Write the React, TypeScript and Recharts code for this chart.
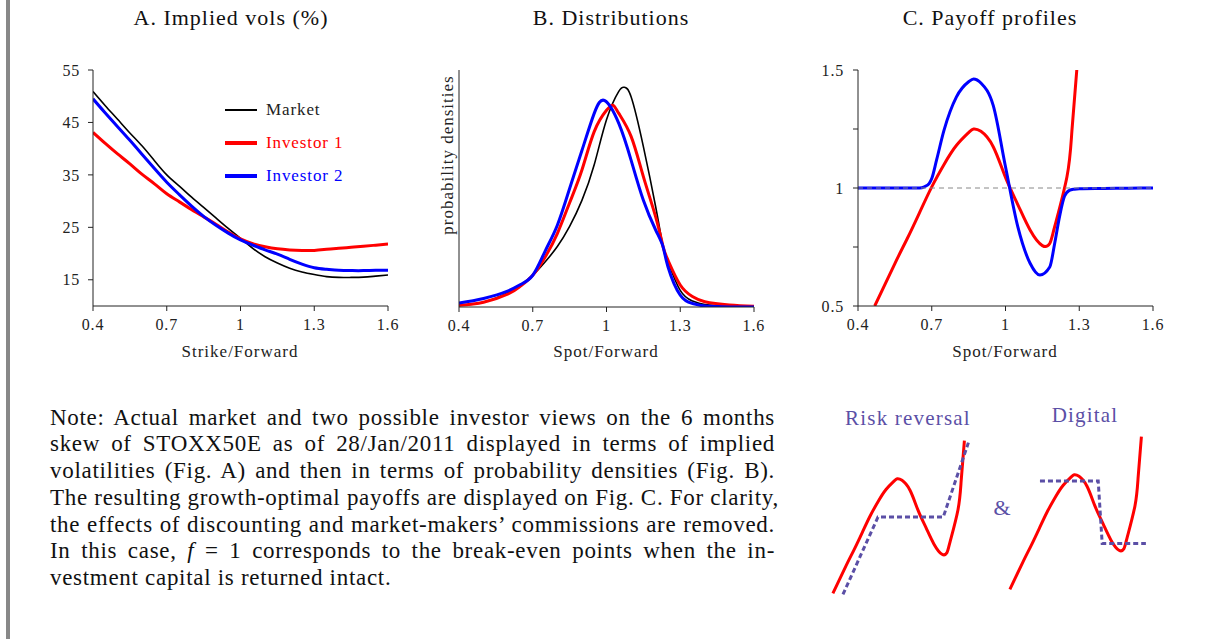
import { LineChart, Line, XAxis, YAxis, ReferenceLine } from 'recharts'

// A. implied vols (%)
const strikes = [0.4, 0.45, 0.5, 0.55, 0.6, 0.65, 0.7, 0.75, 0.8, 0.85, 0.9, 0.95, 1.0, 1.05, 1.1, 1.15, 1.2, 1.25, 1.3, 1.35, 1.4, 1.45, 1.5, 1.55, 1.6]
const volMarket = [50.9, 48.2, 45.6, 43.0, 40.5, 37.7, 35.0, 32.9, 30.8, 28.8, 26.8, 24.8, 22.9, 21.0, 19.4, 18.2, 17.2, 16.5, 16.0, 15.6, 15.45, 15.45, 15.5, 15.7, 15.9]
const volInv1 = [43.1, 41.0, 39.0, 37.1, 35.1, 33.3, 31.4, 29.9, 28.4, 27.0, 25.6, 24.1, 22.8, 21.9, 21.3, 20.9, 20.7, 20.6, 20.6, 20.8, 21.0, 21.2, 21.4, 21.6, 21.8]
const volInv2 = [49.5, 46.8, 44.2, 41.6, 38.9, 36.2, 33.6, 31.3, 29.1, 27.1, 25.4, 23.9, 22.6, 21.6, 20.7, 19.9, 18.9, 18.0, 17.3, 17.0, 16.8, 16.75, 16.75, 16.8, 16.8]

// B. densities (arbitrary units)
const densMarketX = [0.4, 0.5, 0.6, 0.65, 0.7, 0.75, 0.8, 0.85, 0.9, 0.95, 1.0, 1.05, 1.072, 1.1, 1.15, 1.2, 1.23, 1.25, 1.3, 1.35, 1.4, 1.5, 1.6]
const densMarketY = [0.007, 0.02, 0.06, 0.09, 0.134, 0.19, 0.255, 0.34, 0.45, 0.6, 0.79, 0.91, 0.927, 0.887, 0.677, 0.423, 0.255, 0.19, 0.07, 0.025, 0.01, 0.002, 0]
const densInv1X = [0.4, 0.5, 0.6, 0.65, 0.7, 0.75, 0.8, 0.85, 0.9, 0.95, 1.0, 1.027, 1.05, 1.1, 1.15, 1.2, 1.23, 1.25, 1.3, 1.35, 1.4, 1.5, 1.6]
const densInv1Y = [0.007, 0.02, 0.055, 0.088, 0.134, 0.21, 0.31, 0.44, 0.578, 0.74, 0.83, 0.851, 0.817, 0.72, 0.55, 0.38, 0.255, 0.198, 0.093, 0.044, 0.022, 0.008, 0.003]
const densInv2X = [0.4, 0.5, 0.6, 0.65, 0.7, 0.75, 0.8, 0.85, 0.9, 0.95, 0.993, 1.05, 1.1, 1.15, 1.2, 1.23, 1.25, 1.3, 1.35, 1.4, 1.5, 1.6]
const densInv2Y = [0.017, 0.036, 0.068, 0.095, 0.134, 0.235, 0.345, 0.5, 0.66, 0.817, 0.871, 0.775, 0.62, 0.45, 0.325, 0.255, 0.17, 0.05, 0.015, 0.004, 0, 0]

// C. payoff profiles
const payInv1X = [0.468, 0.55, 0.6, 0.65, 0.7, 0.75, 0.8, 0.85, 0.87, 0.9, 0.95, 1.0, 1.05, 1.1, 1.15, 1.18, 1.2, 1.25, 1.27, 1.29]
const payInv1Y = [0.5, 0.68, 0.785, 0.895, 1.005, 1.1, 1.18, 1.235, 1.25, 1.24, 1.175, 1.045, 0.93, 0.822, 0.756, 0.765, 0.836, 1.048, 1.24, 1.5]
const payInv2X = [0.4, 0.5, 0.6, 0.65, 0.67, 0.69, 0.7, 0.72, 0.75, 0.8, 0.85, 0.87, 0.9, 0.95, 1.0, 1.05, 1.1, 1.14, 1.18, 1.2, 1.22, 1.24, 1.26, 1.28, 1.3, 1.4, 1.5, 1.6]
const payInv2Y = [1.0, 1.0, 1.0, 1.0, 1.005, 1.02, 1.04, 1.12, 1.245, 1.385, 1.45, 1.462, 1.445, 1.35, 1.09, 0.836, 0.681, 0.631, 0.665, 0.765, 0.88, 0.965, 0.99, 0.995, 0.997, 0.998, 0.999, 1.0]

// schematic payoffs
const riskRevX = [0.531, 0.75, 1.158, 1.315]
const riskRevY = [0.493, 1.0, 1.0, 1.487]
const digitalX = [0.656, 1.02, 1.045, 1.318]
const digitalY = [1.21, 1.21, 0.8, 0.8]

const xTicks = [0.4, 0.7, 1, 1.3, 1.6]
const volTicks = [15, 25, 35, 45, 55]
const payTicks = [0.5, 0.75, 1, 1.25, 1.5]

const legendItems = [
  { name: 'Market', color: '#000000', width: 2 },
  { name: 'Investor 1', color: '#ff0000', width: 3.5 },
  { name: 'Investor 2', color: '#0000ff', width: 3.5 },
]

const noteLines = [
  'Note: Actual market and two possible investor views on the 6 months',
  'skew of STOXX50E as of 28/Jan/2011 displayed in terms of implied',
  'volatilities (Fig. A) and then in terms of probability densities (Fig. B).',
  'The resulting growth-optimal payoffs are displayed on Fig. C. For clarity,',
  'the effects of discounting and market-makers’ commissions are removed.',
  'In this case, @f@ = 1 corresponds to the break-even points when the in-',
  'vestment capital is returned intact.',
]

const toPoints = (xs: number[], ys: number[]) => xs.map((x, i) => ({ x, y: ys[i] }))

const FONT = '"Liberation Serif", "DejaVu Serif", serif'
const PURPLE = '#5b4fa6'
const tickStyle = { fontSize: 16, fill: '#222', fontFamily: FONT, letterSpacing: 0.8 }
const axisStroke = '#222'

const Abs = ({ x, y, children, style }: { x: number; y: number; children: any; style?: any }) => (
  <div
    style={{
      position: 'absolute',
      left: x,
      top: y,
      transform: 'translate(-50%, -50%)',
      whiteSpace: 'nowrap',
      fontFamily: FONT,
      ...style,
    }}
  >
    {children}
  </div>
)

const titleStyle = { fontSize: 22, letterSpacing: 1, color: '#111' }
const axisLabelStyle = { fontSize: 17, letterSpacing: 1, color: '#222' }

const xAxisProps = {
  type: 'number' as const,
  dataKey: 'x',
  domain: [0.4, 1.6],
  ticks: xTicks,
  tickFormatter: (v: number) => String(v),
  tick: tickStyle,
  tickSize: 5,
  tickMargin: 8,
  stroke: axisStroke,
  height: 64,
  allowDataOverflow: true,
}

const renderNoteLine = (line: string) => {
  const parts = line.split('@')
  return parts.map((p, i) => (i % 2 === 1 ? <i key={i}>{p}</i> : <span key={i}>{p}</span>))
}

const App = () => {
  const aMarket = toPoints(strikes, volMarket)
  const aInv1 = toPoints(strikes, volInv1)
  const aInv2 = toPoints(strikes, volInv2)

  return (
    <div style={{ position: 'absolute', left: 0, top: 0, width: 1206, height: 639, background: '#fff', overflow: 'hidden', fontFamily: FONT }}>
      <div style={{ position: 'absolute', left: 6, top: 0, width: 4, height: 639, background: '#888' }} />

      {/* Panel A */}
      <Abs x={231} y={18} style={titleStyle}>A. Implied vols (%)</Abs>
      <div style={{ position: 'absolute', left: 40, top: 50 }}>
        <LineChart width={360} height={320} margin={{ top: 20, right: 12, left: 0, bottom: 0 }}>
          <XAxis {...xAxisProps} />
          <YAxis
            type="number"
            domain={[10, 55]}
            ticks={volTicks}
            tick={tickStyle}
            tickSize={5}
            tickMargin={8}
            stroke={axisStroke}
            width={53}
          />
          <Line data={aMarket} dataKey="y" type="natural" stroke="#000" strokeWidth={1.6} dot={false} isAnimationActive={false} />
          <Line data={aInv1} dataKey="y" type="natural" stroke="#ff0000" strokeWidth={3} dot={false} isAnimationActive={false} />
          <Line data={aInv2} dataKey="y" type="natural" stroke="#0000ff" strokeWidth={3} dot={false} isAnimationActive={false} />
        </LineChart>
      </div>
      <div style={{ position: 'absolute', left: 225, top: 93.5 }}>
        {legendItems.map((item) => (
          <div key={item.name} style={{ display: 'flex', alignItems: 'center', height: 33 }}>
            <div style={{ width: 32, height: item.width, background: item.color }} />
            <span style={{ marginLeft: 9, fontSize: 17, letterSpacing: 0.9, color: item.color === '#000000' ? '#222' : item.color }}>
              {item.name}
            </span>
          </div>
        ))}
      </div>
      <Abs x={240} y={352} style={axisLabelStyle}>Strike/Forward</Abs>

      {/* Panel B */}
      <Abs x={611} y={18} style={titleStyle}>B. Distributions</Abs>
      <div style={{ position: 'absolute', left: 420, top: 50 }}>
        <LineChart width={345} height={320} margin={{ top: 20, right: 11, left: 0, bottom: 0 }}>
          <XAxis {...xAxisProps} height={63} />
          <YAxis type="number" domain={[0, 1]} tick={false} tickLine={false} stroke={axisStroke} width={39} allowDataOverflow />
          <Line data={toPoints(densMarketX, densMarketY)} dataKey="y" type="natural" stroke="#000" strokeWidth={1.6} dot={false} isAnimationActive={false} />
          <Line data={toPoints(densInv1X, densInv1Y)} dataKey="y" type="natural" stroke="#ff0000" strokeWidth={3} dot={false} isAnimationActive={false} />
          <Line data={toPoints(densInv2X, densInv2Y)} dataKey="y" type="natural" stroke="#0000ff" strokeWidth={3} dot={false} isAnimationActive={false} />
        </LineChart>
      </div>
      <Abs x={448} y={155} style={{ ...axisLabelStyle, transform: 'translate(-50%, -50%) rotate(-90deg)' }}>
        probability densities
      </Abs>
      <Abs x={606} y={352} style={axisLabelStyle}>Spot/Forward</Abs>

      {/* Panel C */}
      <Abs x={990} y={18} style={titleStyle}>C. Payoff profiles</Abs>
      <div style={{ position: 'absolute', left: 800, top: 50 }}>
        <LineChart width={365} height={320} margin={{ top: 20, right: 12, left: 0, bottom: 0 }}>
          <XAxis {...xAxisProps} />
          <YAxis
            type="number"
            domain={[0.5, 1.5]}
            ticks={payTicks}
            tickFormatter={(v: number) => (v === 0.75 || v === 1.25 ? '' : String(v))}
            tick={tickStyle}
            tickSize={5}
            tickMargin={9}
            stroke={axisStroke}
            width={58}
            allowDataOverflow
          />
          <Line data={toPoints(payInv1X, payInv1Y)} dataKey="y" type="natural" stroke="#ff0000" strokeWidth={3} dot={false} isAnimationActive={false} />
          <Line data={toPoints(payInv2X, payInv2Y)} dataKey="y" type="monotone" stroke="#0000ff" strokeWidth={3} dot={false} isAnimationActive={false} />
          <ReferenceLine y={1} stroke="#888" strokeDasharray="5 4" strokeWidth={1} />
        </LineChart>
      </div>
      <Abs x={1005} y={352} style={axisLabelStyle}>Spot/Forward</Abs>

      {/* Note */}
      <div style={{ position: 'absolute', left: 50, top: 404.5, width: 725, fontSize: 23, letterSpacing: 0.7, lineHeight: '26.8px', color: '#111' }}>
        {noteLines.map((line, i) => (
          <div
            key={i}
            style={{
              textAlign: 'justify',
              textAlignLast: i === noteLines.length - 1 ? 'left' : 'justify',
              whiteSpace: 'nowrap',
            }}
          >
            {renderNoteLine(line)}
          </div>
        ))}
      </div>

      {/* Schematic payoffs */}
      <Abs x={908} y={418} style={{ fontSize: 21, letterSpacing: 1.2, color: PURPLE }}>Risk reversal</Abs>
      <Abs x={1085} y={415} style={{ fontSize: 21, letterSpacing: 1.2, color: PURPLE }}>Digital</Abs>
      <Abs x={1002} y={508} style={{ fontSize: 22, color: PURPLE }}>&amp;</Abs>
      <div style={{ position: 'absolute', left: 822, top: 433 }}>
        <LineChart width={152} height={168} margin={{ top: 0, right: 0, left: 0, bottom: 0 }}>
          <XAxis hide type="number" dataKey="x" domain={[0.4, 1.35]} allowDataOverflow />
          <YAxis hide type="number" domain={[0.45, 1.55]} allowDataOverflow />
          <Line data={toPoints(payInv1X, payInv1Y)} dataKey="y" type="natural" stroke="#ff0000" strokeWidth={3} dot={false} isAnimationActive={false} />
          <Line data={toPoints(riskRevX, riskRevY)} dataKey="y" type="linear" stroke={PURPLE} strokeWidth={3} strokeDasharray="5 3" dot={false} isAnimationActive={false} />
        </LineChart>
      </div>
      <div style={{ position: 'absolute', left: 999, top: 429 }}>
        <LineChart width={152} height={168} margin={{ top: 0, right: 0, left: 0, bottom: 0 }}>
          <XAxis hide type="number" dataKey="x" domain={[0.4, 1.35]} allowDataOverflow />
          <YAxis hide type="number" domain={[0.45, 1.55]} allowDataOverflow />
          <Line data={toPoints(payInv1X, payInv1Y)} dataKey="y" type="natural" stroke="#ff0000" strokeWidth={3} dot={false} isAnimationActive={false} />
          <Line data={toPoints(digitalX, digitalY)} dataKey="y" type="linear" stroke={PURPLE} strokeWidth={3} strokeDasharray="5 3" dot={false} isAnimationActive={false} />
        </LineChart>
      </div>
    </div>
  )
}

export default App
